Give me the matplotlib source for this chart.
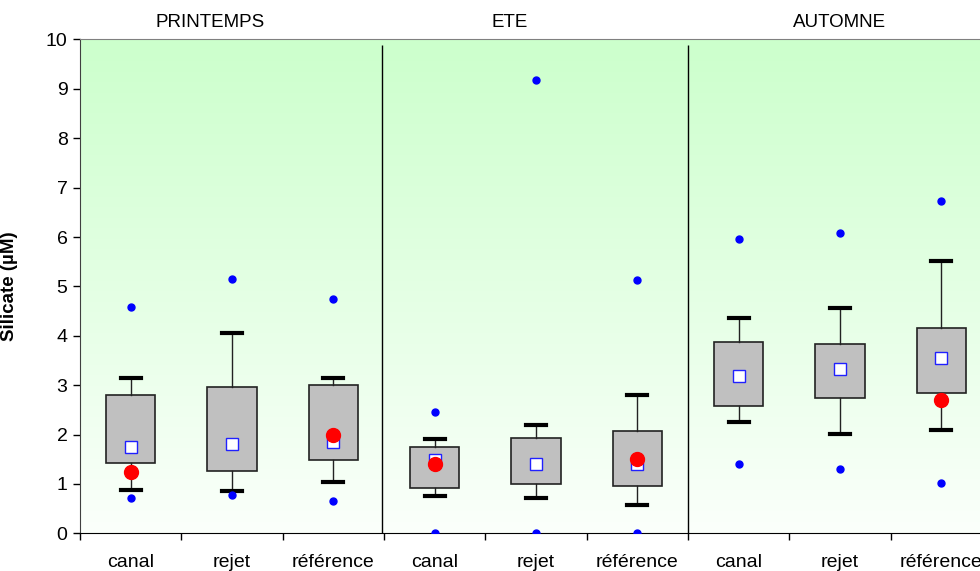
import numpy as np
import matplotlib
matplotlib.use("Agg")
import matplotlib.pyplot as plt
from matplotlib.colors import LinearSegmentedColormap

plt.rcParams['font.family'] = ['Liberation Sans', 'DejaVu Sans']

seasons = ["PRINTEMPS", "ETE", "AUTOMNE"]
sites = ["canal", "rejet", "référence"]

# one value per box, order: printemps x3, ete x3, automne x3
whisker_low = [0.87, 0.85, 1.04, 0.76, 0.71, 0.57, 2.26, 2.02, 2.09]
q1 = [1.42, 1.27, 1.48, 0.91, 1.00, 0.95, 2.57, 2.75, 2.85]
q3 = [2.80, 2.97, 3.01, 1.75, 1.92, 2.08, 3.88, 3.83, 4.15]
whisker_high = [3.14, 4.05, 3.14, 1.90, 2.19, 2.81, 4.37, 4.56, 5.51]
means = [1.75, 1.81, 1.84, 1.48, 1.40, 1.40, 3.19, 3.33, 3.55]
outlier_low = [0.71, 0.78, 0.65, 0.0, 0.0, 0.0, 1.40, 1.31, 1.01]
outlier_high = [4.58, 5.15, 4.75, 2.45, 9.18, 5.13, 5.95, 6.08, 6.73]
red_points = [1.25, None, 2.00, 1.40, None, 1.50, None, None, 2.70]

fig = plt.figure(figsize=(9.8, 5.71), dpi=100)
ax = fig.add_axes([80 / 980, 37.7 / 571, 912 / 980, 493.8 / 571])

# green -> white background
cmap = LinearSegmentedColormap.from_list("bg", ["#fbfffb", "#ccffcc"])
ax.imshow(np.linspace(0, 1, 256).reshape(-1, 1), extent=[0, 1, 0, 1],
          transform=ax.transAxes, cmap=cmap, aspect="auto", origin="lower", zorder=0)

positions = np.arange(9) + 0.5
stats = []
for i in range(9):
    stats.append(dict(med=means[i], q1=q1[i], q3=q3[i], whislo=whisker_low[i],
                      whishi=whisker_high[i], mean=means[i],
                      fliers=[outlier_low[i], outlier_high[i]]))

ax.bxp(stats, positions=positions, widths=0.49, capwidths=0.2,
       patch_artist=True, showmeans=True,
       boxprops=dict(facecolor="#c0c0c0", edgecolor="#222222", linewidth=1.2),
       whiskerprops=dict(color="#222222", linewidth=1),
       capprops=dict(color="black", linewidth=3),
       medianprops=dict(linewidth=0),
       meanprops=dict(marker="s", markerfacecolor="white", markeredgecolor="#2020ff",
                      markersize=8, markeredgewidth=1),
       flierprops=dict(marker="o", markerfacecolor="#0000ff", markeredgecolor="#0000ff",
                       markersize=5),
       zorder=3)

rx = [positions[i] for i in range(9) if red_points[i] is not None]
ry = [v for v in red_points if v is not None]
ax.plot(rx, ry, "o", color="#ff0000", markersize=10, linestyle="none", zorder=5)

# season separators
for s in [2.98, 6]:
    ax.vlines(s, 0, 9.88, color="black", linewidth=1, zorder=2)

ax.set_xlim(0, 9)
ax.set_ylim(0, 10)
ax.set_yticks(range(0, 11))
ax.set_xticks(positions)
ax.set_xticklabels(sites * 3)
ax.set_xticks(np.arange(0, 10), minor=True)
ax.tick_params(axis="x", which="major", length=0, pad=15, labelsize=14)
ax.tick_params(axis="x", which="minor", length=5, direction="out", width=1)
ax.tick_params(axis="y", length=5, width=1, labelsize=14, pad=4)

ax.spines["top"].set_color("#808080")
ax.spines["right"].set_visible(False)
ax.spines["left"].set_color("#404040")
ax.spines["bottom"].set_color("black")

ax.set_ylabel("Silicate (µM)", fontsize=13.5, fontweight="bold")
ax.yaxis.set_label_coords(-0.068, 0.5)

title_x = [1.28, 4.24, 7.5]
for name, x in zip(seasons, title_x):
    ax.text(x, 1.035, name, transform=ax.get_xaxis_transform(), ha="center",
            va="center", fontsize=13.5)

fig.savefig("out.png", dpi=100)
